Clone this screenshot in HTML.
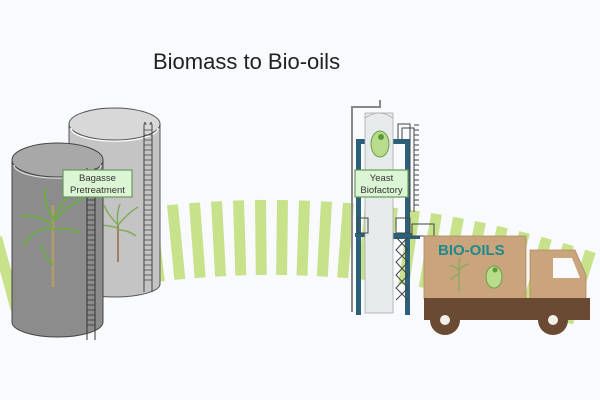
<!DOCTYPE html>
<html><head><meta charset="utf-8"><style>
html,body{margin:0;padding:0;background:#f8fafd;}
svg{display:block;font-family:"Liberation Sans",Arial,sans-serif;}
</style></head><body>
<svg width="600" height="400" viewBox="0 0 600 400" xmlns="http://www.w3.org/2000/svg">
<rect width="600" height="400" fill="#f8fafd"/>
<text x="153" y="69" font-size="22" fill="#222">Biomass to Bio-oils</text>
<g fill="#c8e28c">
<rect x="-5" y="0" width="11" height="75" transform="translate(-4,237.5) rotate(-15.3)"/>
<rect x="-5" y="0" width="11" height="75" transform="translate(18,231.8) rotate(-14.1)"/>
<rect x="-5" y="0" width="11" height="75" transform="translate(40,226.5) rotate(-12.9)"/>
<rect x="-5" y="0" width="11" height="75" transform="translate(62,221.6) rotate(-11.7)"/>
<rect x="-5" y="0" width="11" height="75" transform="translate(84,217.3) rotate(-10.5)"/>
<rect x="-5" y="0" width="11" height="75" transform="translate(106,213.4) rotate(-9.3)"/>
<rect x="-5" y="0" width="11" height="75" transform="translate(128,210.1) rotate(-8.1)"/>
<rect x="-5" y="0" width="11" height="75" transform="translate(150,207.2) rotate(-6.8)"/>
<rect x="-5" y="0" width="11" height="75" transform="translate(172,204.8) rotate(-5.6)"/>
<rect x="-5" y="0" width="11" height="75" transform="translate(194,202.9) rotate(-4.3)"/>
<rect x="-5" y="0" width="11" height="75" transform="translate(216,201.5) rotate(-3.1)"/>
<rect x="-5" y="0" width="11" height="75" transform="translate(238,200.5) rotate(-1.8)"/>
<rect x="-5" y="0" width="11" height="75" transform="translate(260,200) rotate(-0.6)"/>
<rect x="-5" y="0" width="11" height="75" transform="translate(282,200.1) rotate(0.7)"/>
<rect x="-5" y="0" width="11" height="75" transform="translate(304,200.6) rotate(1.9)"/>
<rect x="-5" y="0" width="11" height="75" transform="translate(326,201.6) rotate(3.2)"/>
<rect x="-5" y="0" width="11" height="75" transform="translate(348,203) rotate(4.5)"/>
<rect x="-5" y="0" width="11" height="75" transform="translate(370,205) rotate(5.7)"/>
<rect x="-5" y="0" width="11" height="75" transform="translate(392,207.4) rotate(7)"/>
<rect x="-5" y="0" width="11" height="75" transform="translate(414,210.4) rotate(8.2)"/>
<rect x="-5" y="0" width="11" height="75" transform="translate(436,213.8) rotate(9.4)"/>
<rect x="-5" y="0" width="11" height="75" transform="translate(458,217.7) rotate(10.6)"/>
<rect x="-5" y="0" width="11" height="75" transform="translate(480,222) rotate(11.9)"/>
<rect x="-5" y="0" width="11" height="75" transform="translate(502,226.9) rotate(13.1)"/>
<rect x="-5" y="0" width="11" height="75" transform="translate(524,232.3) rotate(14.3)"/>
<rect x="-5" y="0" width="11" height="75" transform="translate(546,238.1) rotate(15.4)"/>
<rect x="-5" y="0" width="11" height="75" transform="translate(568,244.4) rotate(16.6)"/>
<rect x="-5" y="0" width="11" height="75" transform="translate(590,251.2) rotate(17.7)"/>
</g>

<!-- back tank -->
<path d="M69,124 L69,284 A45.5,13 0 0 0 160,284 L160,124 Z" fill="#c4c4c4" stroke="#555" stroke-width="1"/>
<ellipse cx="114.5" cy="124" rx="45.5" ry="16" fill="#d8d8d8" stroke="#555" stroke-width="1"/>
<path d="M71,128 A43,13 0 0 0 158,128" fill="none" stroke="#fff" stroke-width="1.2"/>
<g stroke="#444" stroke-width="1" fill="none">
<line x1="144" y1="125" x2="144" y2="292"/><line x1="152" y1="125" x2="152" y2="292"/>
<path d="M144,125 q1,-5 2,0 M150,125 q1,-5 2,0"/>
</g>
<g stroke="#444" stroke-width="0.8"><path d="M144,130h8M144,135h8M144,140h8M144,145h8M144,150h8M144,155h8M144,160h8M144,165h8M144,170h8M144,175h8M144,180h8M144,185h8M144,190h8M144,195h8M144,200h8M144,205h8M144,210h8M144,215h8M144,220h8M144,225h8M144,230h8M144,235h8M144,240h8M144,245h8M144,250h8M144,255h8M144,260h8M144,265h8M144,270h8M144,275h8M144,280h8"/></g>
<g stroke="#7fae5a" stroke-width="1.5" fill="none">
<line x1="118" y1="262" x2="118" y2="225" stroke="#a08060" stroke-width="2"/>
<path d="M118,225 q-10,-10 -14,-20 M118,225 q10,-12 20,-18 M118,228 q-14,-4 -20,-2 M118,230 q10,0 18,6 M118,226 q-2,-12 2,-22"/>
</g>

<!-- front tank -->
<path d="M12,160 L12,322 A45.5,15 0 0 0 103,322 L103,160 Z" fill="#8c8c8c" stroke="#444" stroke-width="1"/>
<ellipse cx="57.5" cy="160" rx="45.5" ry="17" fill="#a8a8a8" stroke="#444" stroke-width="1"/>
<path d="M14,165 A43,13 0 0 0 101,165" fill="none" stroke="#ddd" stroke-width="1.2"/>
<g stroke="#333" stroke-width="1" fill="none">
<line x1="87" y1="168" x2="87" y2="340"/><line x1="95" y1="168" x2="95" y2="340"/>
</g>
<g stroke="#333" stroke-width="0.8"><path d="M87,200h8M87,205h8M87,210h8M87,215h8M87,220h8M87,225h8M87,230h8M87,235h8M87,240h8M87,245h8M87,250h8M87,255h8M87,260h8M87,265h8M87,270h8M87,275h8M87,280h8M87,285h8M87,290h8M87,295h8M87,300h8M87,305h8M87,310h8M87,315h8M87,320h8M87,325h8"/></g>
<g stroke="#6faa48" stroke-width="2" fill="none">
<line x1="53" y1="287" x2="53" y2="205" stroke="#b09a70" stroke-width="3"/>
<path d="M53,225 q-18,-12 -32,-8 M53,222 q15,-18 30,-22 M53,218 q-10,-15 -8,-30 M53,220 q8,-20 24,-30 M53,228 q-20,0 -30,18 M53,230 q18,-4 28,4 M53,265 q-8,-8 -12,-20"/>
</g>
<rect x="63" y="170" width="69" height="27" fill="#dcf5d4" stroke="#6a9a5a" stroke-width="1.2"/>
<text x="97.5" y="181" font-size="9.5" text-anchor="middle" fill="#333">Bagasse</text>
<text x="97.5" y="193" font-size="9.5" text-anchor="middle" fill="#333">Pretreatment</text>

<!-- tower -->
<path d="M352,312 V107 H380 V100" fill="none" stroke="#888" stroke-width="2"/>
<g fill="#2b5f7a">
<rect x="356" y="140" width="5" height="175"/>
<rect x="405" y="140" width="5" height="175"/>
<rect x="356" y="139" width="12" height="5"/>
<rect x="393" y="139" width="17" height="5"/>
<rect x="355" y="233" width="57" height="4"/>
<rect x="392" y="236" width="28" height="3"/>
</g>
<rect x="365" y="113" width="28" height="200" fill="#e8ebeb" stroke="#aaa" stroke-width="0.8"/>
<path d="M365,118 q14,-10 28,0" fill="#e8ebeb" stroke="#aaa" stroke-width="0.8"/>
<g stroke="#444" stroke-width="1" fill="none">
<path d="M398,139 V124 H410 V212 M402,139 V128 H414 V212"/>
<path d="M414,125h5M414,130h5M414,135h5M414,140h5M414,145h5M414,150h5M414,155h5M414,160h5M414,165h5M414,170h5M414,175h5M414,180h5M414,185h5M414,190h5M414,195h5M414,200h5M414,205h5"/>
<rect x="358" y="218" width="10" height="15"/>
<rect x="396" y="218" width="14" height="15"/>
<rect x="412" y="224" width="22" height="12"/>
<path d="M396,237 L408,250 L396,262 L408,275 L396,288 L408,300 M408,237 L396,250 L408,262 L396,275 L408,288 L396,300"/>
</g>
<ellipse cx="380" cy="144" rx="9" ry="13" fill="#b8dc8c" stroke="#6aa04a" stroke-width="1"/>
<circle cx="381" cy="137" r="3" fill="#5a9a3a"/>
<rect x="355" y="170" width="53" height="27" fill="#dcf5d4" stroke="#6a9a5a" stroke-width="1.2"/>
<text x="381.5" y="181" font-size="9.5" text-anchor="middle" fill="#333">Yeast</text>
<text x="381.5" y="193" font-size="9.5" text-anchor="middle" fill="#333">Biofactory</text>

<!-- truck -->
<rect x="424" y="236" width="102" height="63" fill="#c9a47c" stroke="#b08a60" stroke-width="0.8"/>
<path d="M530,250 H575 L586,275 V300 H530 Z" fill="#c9a47c" stroke="#b08a60" stroke-width="0.8"/>
<path d="M553,258 H572 L580,278 H553 Z" fill="#f8fafd"/>
<rect x="424" y="298" width="166" height="22" fill="#6b4a33"/>
<circle cx="445" cy="320" r="15" fill="#6b4a33"/><circle cx="445" cy="320" r="5" fill="#f3f0ea"/>
<circle cx="553" cy="320" r="15" fill="#6b4a33"/><circle cx="553" cy="320" r="5" fill="#f3f0ea"/>
<text x="438" y="255" font-size="15" font-weight="bold" fill="#1f8a8a">BIO-OILS</text>
<g stroke="#7fae5a" stroke-width="1.2" fill="none">
<line x1="459" y1="291" x2="459" y2="265"/>
<path d="M459,270 q-6,-5 -10,-4 M459,270 q6,-6 10,-6 M459,268 q-1,-7 2,-10 M459,274 q-6,2 -8,6"/>
</g>
<ellipse cx="494" cy="277" rx="8" ry="11" fill="#b8dc8c" stroke="#6aa04a" stroke-width="1"/>
<circle cx="495" cy="270" r="2.5" fill="#5a9a3a"/>
</svg>
</body></html>
